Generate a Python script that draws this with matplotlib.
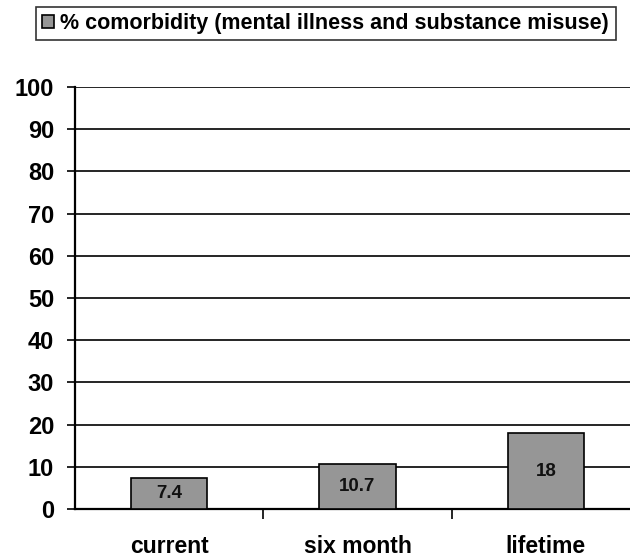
import matplotlib.pyplot as plt
import numpy as np

plt.rcParams['font.family'] = ['Liberation Sans', 'DejaVu Sans']
plt.rcParams['font.weight'] = 'bold'

categories = ['current', 'six month', 'lifetime']
values = [7.4, 10.7, 18]
labels = ['7.4', '10.7', '18']
series_name = '% comorbidity (mental illness and substance misuse)'

fig = plt.figure(figsize=(6.3, 5.6), dpi=100)
ax = fig.add_axes([0.119, 0.0911, 0.897, 0.7535])

x = np.arange(len(categories))
bars = ax.bar(x, values, width=0.405, color='#969696', edgecolor='black',
              linewidth=1.2, label=series_name, zorder=3)
ax.bar_label(bars, labels=labels, label_type='center', fontsize=13.5,
             fontweight='bold', color='#111111')

ax.set_ylim(0, 100)
ax.set_xlim(-0.5, len(categories) - 0.5)
ax.set_yticks(np.arange(0, 101, 10))
ax.yaxis.grid(True, color='black', linewidth=1.2, zorder=0)
ax.tick_params(axis='y', length=6, width=1.2, labelsize=17, pad=9)

ax.set_xticks(x)
ax.set_xticklabels(categories)
ax.tick_params(axis='x', which='major', length=0, labelsize=16.5, pad=19)
ax.set_xticks(np.arange(0.5, len(categories) - 0.5, 1), minor=True)
ax.tick_params(axis='x', which='minor', length=7, width=1.2, direction='out')

for s in ['top', 'right']:
    ax.spines[s].set_visible(False)
ax.spines['left'].set_linewidth(1.6)
ax.spines['bottom'].set_linewidth(1.6)

leg = fig.legend(loc='center', bbox_to_anchor=(0.517, 0.958), fontsize=15.5,
                 frameon=True, fancybox=False, edgecolor='black',
                 handlelength=0.55, handleheight=0.55, handletextpad=0.3,
                 borderpad=0.3, borderaxespad=0)
leg.get_frame().set_linewidth(1.2)
for t in leg.get_texts():
    t.set_fontweight('bold')

fig.savefig('out.png', dpi=100)
